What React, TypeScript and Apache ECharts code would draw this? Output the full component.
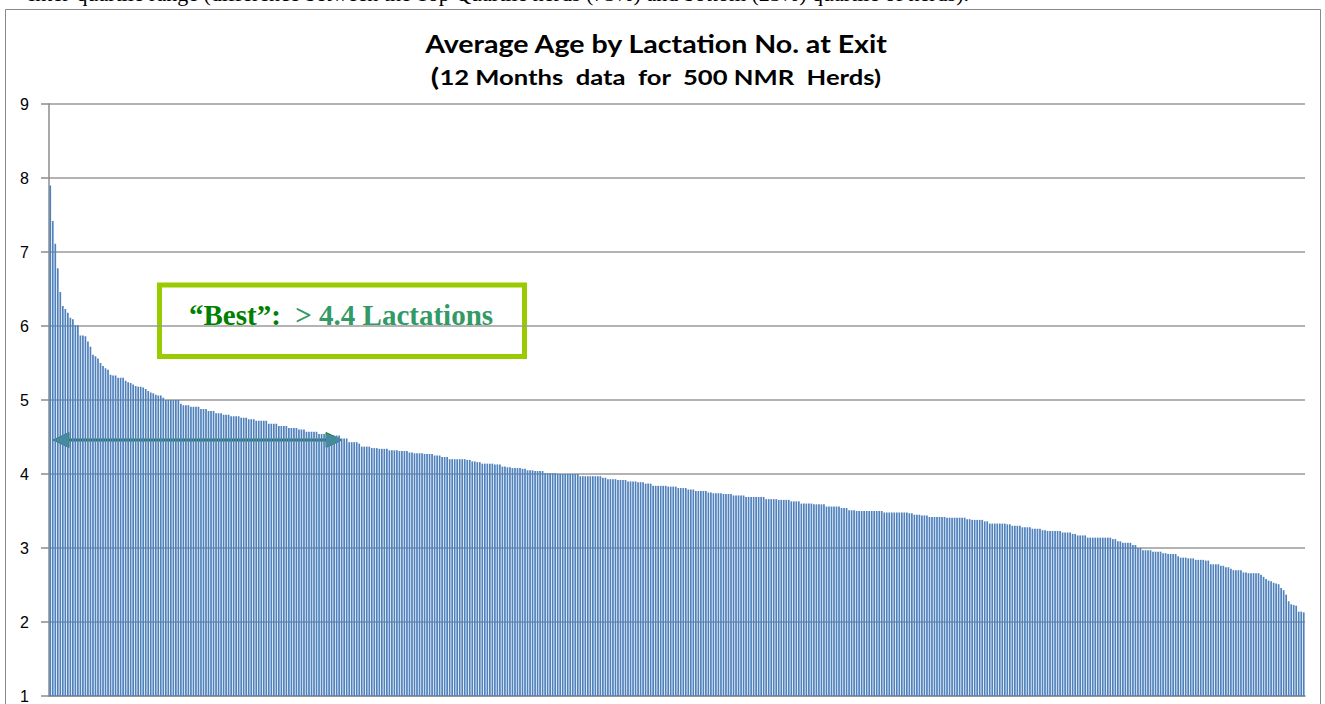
import React, { useEffect, useRef } from "react";
import * as echarts from "echarts";

const chartTitle = "Average Age by Lactation No. at Exit";
const subtitleParen = "(";
const subtitleText = "12 Months  data  for  500 NMR  Herds)";
const annotationLead = "\u201cBest\u201d:";
const annotationRest = "  > 4.4 Lactations";
const pageTextAbove =
  "Inter-quartile range (difference between the Top Quartile herds (75%) and bottom (25%) quartile of herds).";

// Average lactation number at exit, one value per herd, sorted high to low (500 herds)
const herds001to100 = [
  7.9, 7.42, 7.11, 6.78, 6.46, 6.27, 6.23, 6.18, 6.11, 6.09,
  6.01, 6.01, 5.87, 5.87, 5.86, 5.79, 5.72, 5.61, 5.59, 5.56,
  5.5, 5.46, 5.43, 5.41, 5.34, 5.33, 5.33, 5.3, 5.3, 5.3,
  5.26, 5.24, 5.23, 5.21, 5.19, 5.18, 5.18, 5.17, 5.15, 5.12,
  5.1, 5.09, 5.07, 5.06, 5.06, 5.03, 5.0, 5.0, 5.0, 5.0,
  5.0, 5.0, 4.95, 4.93, 4.93, 4.93, 4.91, 4.91, 4.91, 4.91,
  4.88, 4.88, 4.88, 4.85, 4.85, 4.85, 4.82, 4.82, 4.82, 4.8,
  4.8, 4.8, 4.78, 4.78, 4.78, 4.78, 4.76, 4.76, 4.76, 4.74,
  4.74, 4.74, 4.72, 4.72, 4.72, 4.72, 4.72, 4.68, 4.68, 4.68,
  4.68, 4.65, 4.65, 4.65, 4.65, 4.62, 4.62, 4.62, 4.62, 4.6,
];
const herds101to200 = [
  4.6, 4.6, 4.57, 4.57, 4.57, 4.57, 4.57, 4.54, 4.54, 4.54,
  4.54, 4.52, 4.52, 4.52, 4.52, 4.52, 4.48, 4.48, 4.48, 4.43,
  4.43, 4.43, 4.43, 4.41, 4.37, 4.37, 4.37, 4.37, 4.35, 4.35,
  4.35, 4.34, 4.34, 4.34, 4.34, 4.32, 4.32, 4.32, 4.32, 4.31,
  4.31, 4.31, 4.31, 4.29, 4.29, 4.28, 4.28, 4.28, 4.28, 4.27,
  4.27, 4.27, 4.27, 4.25, 4.25, 4.25, 4.23, 4.23, 4.23, 4.2,
  4.2, 4.2, 4.2, 4.2, 4.2, 4.2, 4.19, 4.19, 4.17, 4.17,
  4.16, 4.16, 4.14, 4.14, 4.14, 4.14, 4.14, 4.13, 4.13, 4.13,
  4.1, 4.1, 4.09, 4.09, 4.08, 4.08, 4.08, 4.08, 4.07, 4.07,
  4.05, 4.05, 4.05, 4.04, 4.04, 4.04, 4.04, 4.01, 4.01, 4.01,
];
const herds201to300 = [
  4.01, 4.01, 4.0, 4.0, 4.0, 4.0, 4.0, 4.0, 4.0, 4.0,
  4.0, 3.97, 3.97, 3.97, 3.97, 3.97, 3.97, 3.97, 3.97, 3.97,
  3.95, 3.95, 3.93, 3.93, 3.93, 3.93, 3.92, 3.92, 3.92, 3.92,
  3.9, 3.9, 3.9, 3.9, 3.89, 3.89, 3.89, 3.87, 3.87, 3.87,
  3.84, 3.84, 3.84, 3.84, 3.84, 3.84, 3.83, 3.83, 3.83, 3.83,
  3.81, 3.81, 3.81, 3.81, 3.79, 3.79, 3.79, 3.77, 3.77, 3.77,
  3.77, 3.77, 3.75, 3.75, 3.74, 3.74, 3.74, 3.74, 3.73, 3.73,
  3.73, 3.73, 3.71, 3.71, 3.71, 3.71, 3.71, 3.69, 3.69, 3.69,
  3.69, 3.69, 3.69, 3.69, 3.69, 3.66, 3.66, 3.66, 3.66, 3.66,
  3.65, 3.65, 3.65, 3.65, 3.65, 3.63, 3.63, 3.63, 3.63, 3.6,
];
const herds301to400 = [
  3.6, 3.6, 3.6, 3.6, 3.59, 3.59, 3.59, 3.59, 3.59, 3.56,
  3.56, 3.56, 3.56, 3.56, 3.56, 3.54, 3.54, 3.54, 3.51, 3.51,
  3.51, 3.5, 3.5, 3.5, 3.5, 3.5, 3.5, 3.5, 3.5, 3.5,
  3.5, 3.5, 3.48, 3.48, 3.48, 3.48, 3.48, 3.48, 3.48, 3.48,
  3.48, 3.48, 3.47, 3.47, 3.45, 3.45, 3.45, 3.44, 3.44, 3.44,
  3.42, 3.42, 3.42, 3.42, 3.42, 3.42, 3.42, 3.41, 3.41, 3.41,
  3.41, 3.41, 3.41, 3.41, 3.41, 3.39, 3.39, 3.38, 3.38, 3.38,
  3.38, 3.38, 3.36, 3.36, 3.33, 3.33, 3.33, 3.33, 3.33, 3.33,
  3.33, 3.32, 3.32, 3.3, 3.3, 3.3, 3.3, 3.28, 3.28, 3.28,
  3.28, 3.26, 3.26, 3.26, 3.26, 3.24, 3.24, 3.23, 3.23, 3.23,
];
const herds401to500 = [
  3.23, 3.23, 3.23, 3.21, 3.21, 3.21, 3.21, 3.19, 3.19, 3.17,
  3.17, 3.17, 3.17, 3.14, 3.14, 3.14, 3.14, 3.14, 3.14, 3.14,
  3.14, 3.14, 3.14, 3.12, 3.12, 3.09, 3.09, 3.07, 3.07, 3.07,
  3.07, 3.04, 3.04, 3.0, 3.0, 2.97, 2.97, 2.97, 2.97, 2.95,
  2.95, 2.95, 2.95, 2.93, 2.93, 2.92, 2.92, 2.92, 2.92, 2.89,
  2.87, 2.87, 2.87, 2.86, 2.86, 2.86, 2.84, 2.84, 2.84, 2.84,
  2.83, 2.83, 2.78, 2.78, 2.78, 2.78, 2.76, 2.76, 2.74, 2.74,
  2.72, 2.7, 2.7, 2.7, 2.7, 2.67, 2.67, 2.66, 2.66, 2.66,
  2.66, 2.66, 2.64, 2.61, 2.58, 2.56, 2.55, 2.53, 2.52, 2.51,
  2.46, 2.43, 2.37, 2.28, 2.24, 2.23, 2.22, 2.14, 2.14, 2.13,
];

const yAxisMin = 1;
const yAxisMax = 9;
const yAxisStep = 1;

export default function App() {
  const ref = useRef<HTMLDivElement>(null);

  useEffect(() => {
    document.body.style.margin = "0";
    const el = ref.current;
    if (!el) return;
    const chart = echarts.init(el, undefined, { renderer: "svg" });

    const values = [
      ...herds001to100,
      ...herds101to200,
      ...herds201to300,
      ...herds301to400,
      ...herds401to500,
    ];
    const categories = values.map((_, i) => String(i + 1));

    const gridLeft = 49;
    const gridRight = 20;
    const gridTop = 104;
    const gridBottom = 7;

    const arrowColor = "#17772f";
    const arrowFill = "#33a064";
    const titleFont = "Lato, 'Open Sans', sans-serif";

    chart.setOption({
      animation: false,
      backgroundColor: "#ffffff",
      grid: { left: gridLeft, right: gridRight, top: gridTop, bottom: gridBottom, containLabel: false },
      xAxis: {
        type: "category",
        data: categories,
        axisLabel: { show: false },
        axisTick: { show: false },
        axisLine: { show: true, lineStyle: { color: "#8c8c8c", width: 1.5 } },
        splitLine: { show: false },
      },
      yAxis: {
        type: "value",
        min: yAxisMin,
        max: yAxisMax,
        interval: yAxisStep,
        axisLine: { show: true, lineStyle: { color: "#8c8c8c", width: 1.5 } },
        axisTick: { show: true, inside: false, length: 8, lineStyle: { color: "#8c8c8c", width: 1.5 } },
        axisLabel: {
          margin: 20,
          color: "#000",
          fontFamily: "Liberation Sans, Arial, sans-serif",
          fontSize: 16,
        },
        splitLine: { show: true, lineStyle: { color: "#9a9a9a", width: 1.5 } },
      },
      series: [
        {
          type: "bar",
          data: values,
          barWidth: 1.7,
          itemStyle: { color: "#4f81bd" },
          emphasis: { disabled: true },
          silent: true,
        },
      ],
      graphic: [
        {
          type: "text",
          left: 28,
          top: -18,
          style: {
            text: pageTextAbove,
            font: "22px 'Liberation Serif', 'Times New Roman', serif",
            fill: "#000",
          },
          silent: true,
        },
        {
          type: "rect",
          shape: { x: 5.5, y: 9.5, width: 1315, height: 720 },
          style: { fill: "none", stroke: "#8a8a8a", lineWidth: 1 },
          silent: true,
        },
        {
          type: "text",
          x: 656,
          y: 44,
          scaleX: 1.19,
          style: {
            text: chartTitle,
            font: "bold 24px " + titleFont,
            fill: "#000",
            align: "center",
            verticalAlign: "middle",
          },
          silent: true,
        },
        {
          type: "text",
          x: 656,
          y: 77,
          scaleX: 1.28,
          style: {
            text: "{p|" + subtitleParen + "}{t|" + subtitleText + "}",
            align: "center",
            verticalAlign: "middle",
            rich: {
              p: { font: "bold 24px " + titleFont, fill: "#000" },
              t: { font: "bold 20px " + titleFont, fill: "#000" },
            },
          },
          silent: true,
        },
        {
          type: "rect",
          shape: { x: 159.5, y: 285, width: 365, height: 71.5 },
          style: { fill: "#ffffff", stroke: "#99cc00", lineWidth: 5 },
          silent: true,
        },
        {
          type: "text",
          x: 189,
          y: 315,
          style: {
            text: "{a|" + annotationLead + "}{b|" + annotationRest + "}",
            verticalAlign: "middle",
            rich: {
              a: { font: "bold 29px 'Liberation Serif', 'Times New Roman', serif", fill: "#008000" },
              b: { font: "bold 29px 'Liberation Serif', 'Times New Roman', serif", fill: "#339966" },
            },
          },
          silent: true,
        },
        {
          type: "line",
          shape: { x1: 66, y1: 440, x2: 330, y2: 440 },
          style: { stroke: arrowColor, lineWidth: 3 },
          silent: true,
        },
        {
          type: "polygon",
          shape: { points: [[53, 440], [69, 432.5], [69, 447.5]] },
          style: { fill: arrowFill, stroke: arrowColor, lineWidth: 1 },
          silent: true,
        },
        {
          type: "polygon",
          shape: { points: [[342, 440], [326, 432.5], [326, 447.5]] },
          style: { fill: arrowFill, stroke: arrowColor, lineWidth: 1 },
          silent: true,
        },
      ],
    });

    return () => {
      chart.dispose();
    };
  }, []);

  return <div ref={ref} style={{ width: 1325, height: 704 }} />;
}
